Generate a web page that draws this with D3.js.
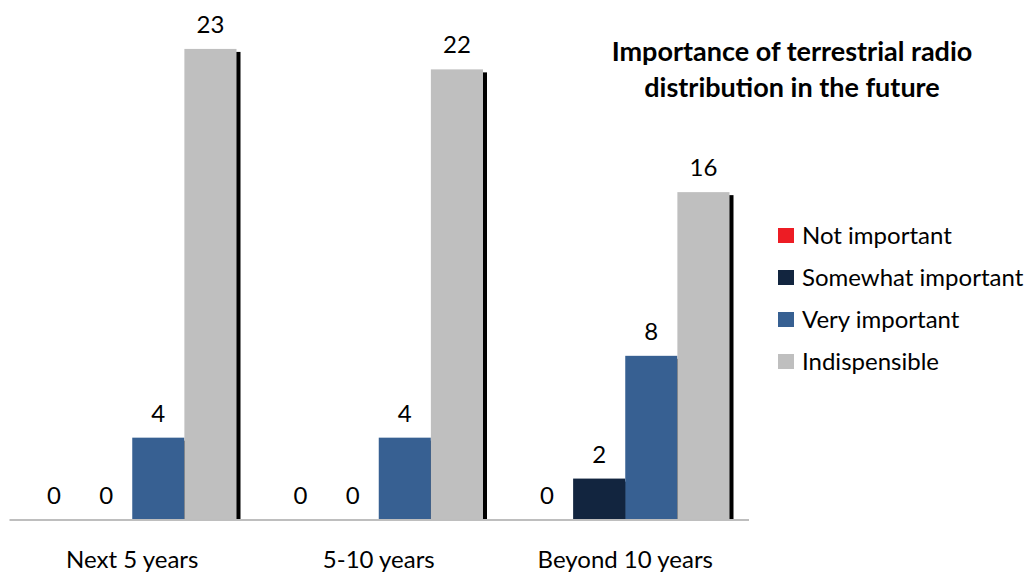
<!DOCTYPE html>
<html>
<head>
<meta charset="utf-8">
<script src="https://cdn.jsdelivr.net/npm/d3@7"></script>
<style>
  body { margin: 0; background: #fff; }
  svg text { font-family: Lato, "Open Sans", sans-serif; fill: #000; }
</style>
</head>
<body>
<svg id="chart" width="1035" height="574"></svg>
<script>
// data
const categories = ["Next 5 years", "5-10 years", "Beyond 10 years"];
const seriesNames = ["Not important", "Somewhat important", "Very important", "Indispensible"];
const notImportant = [0, 0, 0];
const somewhatImportant = [0, 0, 2];
const veryImportant = [4, 4, 8];
const indispensible = [23, 22, 16];
const titleLines = ["Importance of terrestrial radio", "distribution in the future"];

const colors = ["#ED1C24", "#12253F", "#376092", "#BFBFBF"];

const width = 1035;
const height = 574;
const fontSize = 24;

const svg = d3.select("#chart");

const allSeries = [notImportant, somewhatImportant, veryImportant, indispensible];
const rows = [];
allSeries.forEach((vals, si) => {
  vals.forEach((v, ci) => {
    rows.push({ series: seriesNames[si], cat: categories[ci], value: v, si: si });
  });
});

// scales
const xScale = d3.scaleBand()
  .domain(categories)
  .range([9, 748.5])
  .paddingInner(0)
  .paddingOuter(0);

const groupPad = 19;
const xInner = d3.scaleBand()
  .domain(seriesNames)
  .range([groupPad, xScale.bandwidth() - groupPad]);

const yScale = d3.scaleLinear()
  .domain([0, 25])
  .range([519.5, 8]);

const barX = (d) => xScale(d.cat) + xInner(d.series);

// shadows first (only visible on the right of each group)
svg.append("g")
  .selectAll("rect")
  .data(rows.filter((d) => d.value > 0))
  .join("rect")
  .attr("x", (d) => barX(d) + 4)
  .attr("y", (d) => yScale(d.value) + 3)
  .attr("width", xInner.bandwidth())
  .attr("height", (d) => yScale(0) - yScale(d.value) - 3)
  .attr("fill", "#000");

// bars
svg.append("g")
  .selectAll("rect")
  .data(rows)
  .join("rect")
  .attr("x", (d) => barX(d))
  .attr("y", (d) => yScale(d.value))
  .attr("width", xInner.bandwidth())
  .attr("height", (d) => yScale(0) - yScale(d.value))
  .attr("fill", (d) => colors[d.si]);

// x axis line
const xAxis = d3.axisBottom(xScale).tickSize(0).tickPadding(31);
const gx = svg.append("g")
  .attr("transform", `translate(0,${yScale(0)})`)
  .call(xAxis);
gx.select(".domain").attr("stroke", "#BEBEBE").attr("stroke-width", 2);
gx.selectAll("text")
  .attr("font-size", fontSize)
  .style("font-family", "Lato, 'Open Sans', sans-serif")
  .attr("fill", "#000");

// value labels (zero labels for not important / somewhat important)
svg.append("g")
  .selectAll("text")
  .data(rows.filter((d) => !(d.value === 0 && d.si > 1)))
  .join("text")
  .attr("x", (d) => barX(d) + xInner.bandwidth() / 2)
  .attr("y", (d) => yScale(d.value) - 16)
  .attr("text-anchor", "middle")
  .attr("font-size", fontSize)
  .text((d) => d.value);

// title
svg.append("text")
  .attr("x", 792)
  .attr("y", 61)
  .attr("text-anchor", "middle")
  .attr("font-size", 27)
  .attr("font-weight", "bold")
  .selectAll("tspan")
  .data(titleLines)
  .join("tspan")
  .attr("x", 792)
  .attr("dy", (d, i) => (i === 0 ? 0 : 36))
  .text((d) => d);

// legend
const legend = svg.append("g").attr("transform", "translate(778,228)");
const items = legend.selectAll("g")
  .data(seriesNames)
  .join("g")
  .attr("transform", (d, i) => `translate(0,${i * 42})`);
items.append("rect")
  .attr("width", 16)
  .attr("height", 15)
  .attr("fill", (d, i) => colors[i]);
items.append("text")
  .attr("x", 24)
  .attr("y", 16)
  .attr("font-size", fontSize)
  .text((d) => d);
</script>
</body>
</html>
